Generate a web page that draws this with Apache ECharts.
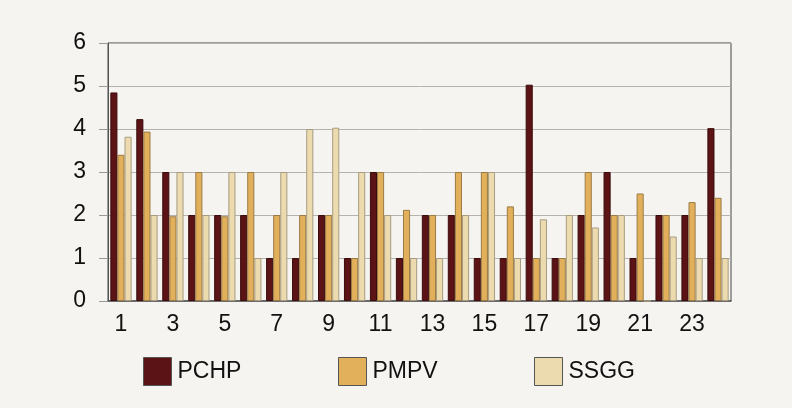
<!DOCTYPE html>
<html><head><meta charset="utf-8">
<script src="https://cdn.jsdelivr.net/npm/echarts@6/dist/echarts.min.js"></script>
<style>html,body{margin:0;padding:0;background:#f5f4f0;}#c{width:792px;height:408px;}</style>
</head><body><div id="c"></div>
<script>
const categories = ['1','2','3','4','5','6','7','8','9','10','11','12','13','14','15','16','17','18','19','20','21','22','23','24'];
const seriesNames = ['PCHP','PMPV','SSGG'];
const PCHP = [4.85,4.23,3,2,2,2,1,1,2,1,3,1,2,2,1,1,5.03,1,2,3,1,2,2,4.02];
const PMPV = [3.4,3.94,1.97,3,1.97,3,2,2,2,1,3,2.12,2,3,3,2.2,1,1,3,2,2.5,2,2.3,2.4];
const SSGG = [3.82,2,3,2,3,1,3,4,4.03,3,2,1,1,2,3,1,1.9,2,1.71,2,0,1.5,1,1];
const yTicks = [0,1,2,3,4,5,6];

const colors = ['#5c1315','#e2b05a','#eddbb0'];
const borders = ['#3a0c0d','#9a7a45','#a89c80'];
const font = 'Liberation Sans, Arial, sans-serif';
const chart = echarts.init(document.getElementById('c'), null, {renderer:'canvas'});
const data = [PCHP, PMPV, SSGG];
const legendLeft = [143, 338, 534];
chart.setOption({
  backgroundColor: '#f5f4f0',
  animation: false,
  legend: seriesNames.map((n,i)=>({
    data:[n], left: legendLeft[i], top: 357, itemWidth: 28, itemHeight: 28, itemGap: 5,
    padding: 0, icon: 'rect',
    textStyle:{fontFamily:font, fontSize:23, color:'#111', padding:[0,0,0,1]},
    itemStyle:{borderColor:'#555', borderWidth:1}
  })),
  grid: {left:108, right:61, top:43, bottom:107, show:true, borderColor:'#444', borderWidth:1, backgroundColor:'transparent'},
  xAxis: {
    type:'category', data: categories,
    axisLine:{lineStyle:{color:'#555', width:1.5}},
    axisTick:{show:false},
    axisLabel:{interval:1, fontFamily:font, fontSize:23, color:'#111', margin:12}
  },
  yAxis: {
    type:'value', min: yTicks[0], max: yTicks[yTicks.length-1], interval:1,
    axisLine:{show:true, lineStyle:{color:'#555', width:1}},
    axisTick:{show:true, length:9, lineStyle:{color:'#999'}},
    splitLine:{lineStyle:{color:'#b5b3ae', width:1}},
    axisLabel:{fontFamily:font, fontSize:23, color:'#111', margin:22}
  },
  series: seriesNames.map((n,i)=>({
    name:n, type:'bar', data:data[i], barGap:'0%', barCategoryGap:'18%',
    itemStyle:{color:colors[i], borderColor:borders[i], borderWidth:1}
  }))
});
</script></body></html>
